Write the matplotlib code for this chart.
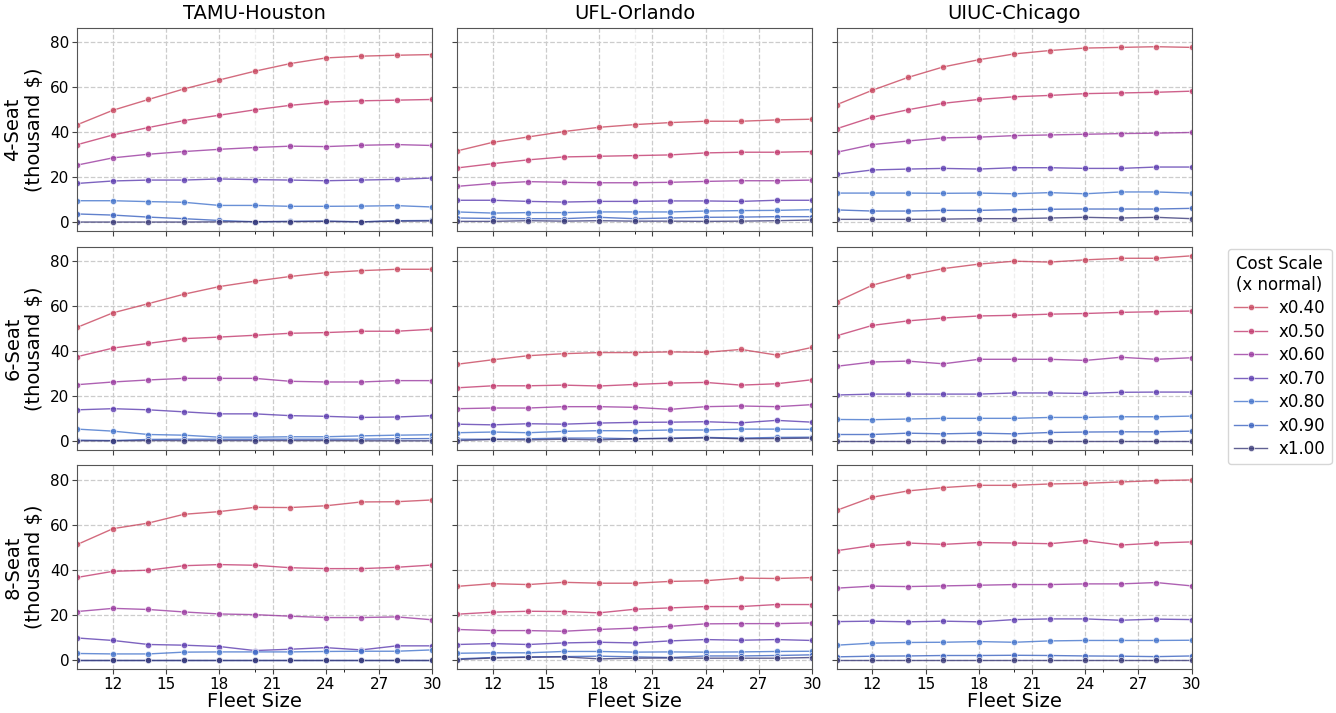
import matplotlib
matplotlib.use('Agg')
import matplotlib.pyplot as plt
import numpy as np

fleet = [10, 12, 14, 16, 18, 20, 22, 24, 26, 28, 30]
sites = ['TAMU-Houston', 'UFL-Orlando', 'UIUC-Chicago']
seats = ['4-Seat', '6-Seat', '8-Seat']
scales = ['x0.40', 'x0.50', 'x0.60', 'x0.70', 'x0.80', 'x0.90', 'x1.00']

# cost (thousand $), one list per cost scale, per seat/site panel
tamu_4 = [
    [43.4, 49.8, 54.6, 59.3, 63.3, 67.2, 70.6, 73.1, 73.9, 74.3, 74.6],
    [34.5, 38.8, 42.1, 45.2, 47.6, 50.0, 52.0, 53.4, 54.0, 54.3, 54.6],
    [25.4, 28.6, 30.2, 31.4, 32.4, 33.2, 33.8, 33.6, 34.2, 34.5, 34.1],
    [17.2, 18.3, 18.7, 18.7, 19.2, 18.9, 18.7, 18.4, 18.7, 19.0, 19.6],
    [9.5, 9.5, 9.1, 8.8, 7.4, 7.4, 7.0, 7.0, 7.1, 7.3, 6.7],
    [3.6, 3.1, 2.2, 1.5, 0.7, 0.1, 0.3, 0.4, 0.1, 0.6, 0.7],
    [0.0, 0.0, 0.0, 0.0, 0.1, 0.2, 0.2, 0.3, 0.1, 0.4, 0.5],
]
ufl_4 = [
    [31.7, 35.5, 37.9, 40.3, 42.2, 43.4, 44.3, 44.9, 44.9, 45.5, 45.8],
    [24.1, 26.0, 27.7, 29.0, 29.3, 29.6, 29.9, 30.8, 31.1, 31.1, 31.4],
    [15.9, 17.2, 18.0, 17.7, 17.5, 17.5, 17.7, 18.1, 18.4, 18.4, 18.7],
    [9.7, 9.7, 9.2, 8.9, 9.2, 9.2, 9.4, 9.4, 9.2, 9.7, 9.7],
    [4.5, 4.0, 4.2, 4.2, 4.5, 4.5, 4.5, 4.9, 5.1, 5.2, 5.5],
    [1.8, 1.6, 1.5, 1.5, 2.1, 1.5, 1.8, 2.1, 2.2, 2.4, 2.4],
    [0.3, 0.3, 0.6, 0.4, 0.6, 0.4, 0.4, 0.3, 0.4, 0.6, 0.9],
]
uiuc_4 = [
    [52.3, 58.7, 64.4, 69.1, 72.3, 74.9, 76.4, 77.5, 77.8, 78.1, 77.8],
    [41.6, 46.7, 50.0, 52.9, 54.6, 55.8, 56.4, 57.2, 57.5, 57.8, 58.3],
    [31.1, 34.5, 36.1, 37.5, 37.8, 38.5, 38.8, 39.1, 39.4, 39.6, 39.9],
    [21.3, 23.2, 23.6, 23.9, 23.6, 24.2, 24.2, 23.9, 23.9, 24.5, 24.5],
    [12.9, 12.9, 12.9, 12.8, 12.9, 12.6, 13.1, 12.6, 13.4, 13.4, 12.9],
    [5.4, 4.9, 4.9, 5.2, 5.2, 5.5, 5.7, 5.8, 5.8, 5.8, 6.1],
    [1.2, 1.2, 1.2, 1.3, 1.5, 1.5, 1.8, 2.1, 1.8, 2.1, 1.5],
]
tamu_6 = [
    [50.6, 57.0, 61.1, 65.3, 68.7, 71.1, 73.2, 74.9, 75.8, 76.4, 76.4],
    [37.5, 41.3, 43.4, 45.5, 46.2, 47.0, 47.9, 48.2, 48.8, 48.8, 49.7],
    [25.0, 26.2, 27.1, 27.8, 27.8, 27.8, 26.5, 26.2, 26.2, 26.8, 26.8],
    [13.8, 14.3, 13.8, 12.9, 12.0, 12.0, 11.2, 10.9, 10.4, 10.6, 11.2],
    [5.2, 4.3, 2.8, 2.5, 1.6, 1.6, 1.8, 1.8, 2.2, 2.5, 2.7],
    [0.3, 0.1, 0.6, 0.7, 0.7, 0.7, 0.7, 0.7, 0.7, 0.9, 1.0],
    [0.0, 0.0, 0.1, 0.1, 0.1, 0.1, 0.1, 0.1, 0.0, 0.0, 0.0],
]
ufl_6 = [
    [34.1, 36.1, 37.9, 38.8, 39.3, 39.3, 39.6, 39.4, 40.7, 38.2, 41.6],
    [23.6, 24.5, 24.5, 24.8, 24.4, 25.1, 25.7, 26.0, 24.8, 25.4, 27.2],
    [14.3, 14.6, 14.6, 15.2, 15.2, 14.9, 14.0, 15.2, 15.5, 15.2, 16.1],
    [7.4, 7.1, 7.6, 7.4, 7.9, 8.2, 8.3, 8.5, 8.0, 9.1, 8.3],
    [3.6, 3.9, 3.6, 4.2, 4.5, 4.5, 4.8, 4.8, 5.2, 5.2, 5.1],
    [0.7, 0.7, 0.9, 1.2, 1.2, 0.9, 1.2, 1.5, 1.2, 1.5, 1.6],
    [0.1, 0.6, 0.4, 0.7, 0.4, 0.9, 1.0, 1.3, 0.9, 1.0, 1.2],
]
uiuc_6 = [
    [62.0, 69.3, 73.6, 76.7, 78.7, 80.0, 79.6, 80.6, 81.3, 81.3, 82.4],
    [46.8, 51.4, 53.4, 54.7, 55.6, 55.9, 56.4, 56.7, 57.2, 57.5, 57.8],
    [33.2, 35.1, 35.5, 34.3, 36.3, 36.3, 36.3, 35.8, 37.2, 36.3, 37.0],
    [20.4, 20.8, 20.8, 20.8, 20.8, 21.3, 21.3, 21.1, 21.6, 21.7, 21.7],
    [9.5, 9.4, 9.7, 10.0, 10.0, 10.0, 10.4, 10.4, 10.7, 10.7, 11.0],
    [2.8, 2.8, 3.4, 3.1, 3.4, 3.1, 3.7, 3.9, 4.0, 4.0, 4.3],
    [0.0, 0.0, 0.0, 0.0, 0.0, 0.0, 0.0, 0.0, 0.0, 0.0, 0.0],
]
tamu_8 = [
    [51.3, 58.3, 60.8, 64.7, 65.9, 67.8, 67.7, 68.5, 70.2, 70.3, 71.1],
    [36.6, 39.3, 39.8, 41.8, 42.3, 42.0, 40.9, 40.5, 40.5, 41.1, 42.1],
    [21.4, 22.8, 22.3, 21.2, 20.3, 20.0, 19.3, 18.7, 18.7, 19.0, 17.7],
    [9.6, 8.5, 6.7, 6.4, 5.8, 4.0, 4.6, 5.3, 4.3, 6.1, 6.1],
    [2.7, 2.5, 2.5, 3.3, 3.4, 3.4, 3.4, 3.6, 3.7, 3.7, 4.3],
    [0.0, 0.0, 0.0, 0.0, 0.0, 0.0, 0.0, 0.0, 0.0, 0.0, 0.0],
    [0.0, 0.0, 0.0, 0.0, 0.0, 0.0, 0.0, 0.0, 0.0, 0.0, 0.0],
]
ufl_8 = [
    [32.6, 33.8, 33.4, 34.4, 34.0, 34.0, 34.8, 35.1, 36.3, 36.1, 36.5],
    [20.2, 21.1, 21.5, 21.4, 20.8, 22.4, 23.0, 23.6, 23.6, 24.5, 24.5],
    [13.4, 12.9, 12.9, 12.6, 13.4, 14.0, 14.8, 15.9, 16.0, 16.0, 16.3],
    [6.7, 7.1, 6.7, 7.4, 7.7, 7.4, 8.3, 8.9, 8.6, 8.9, 8.5],
    [2.8, 3.0, 3.0, 3.6, 3.6, 3.3, 3.4, 3.3, 3.4, 3.6, 3.7],
    [0.3, 0.9, 1.2, 1.3, 1.5, 1.2, 0.9, 1.6, 1.6, 1.8, 2.1],
    [0.0, 0.7, 1.0, 1.2, 0.3, 0.6, 0.7, 0.6, 0.6, 0.6, 0.9],
]
uiuc_8 = [
    [66.5, 72.3, 75.1, 76.6, 77.6, 77.6, 78.2, 78.5, 79.1, 79.7, 80.0],
    [48.5, 50.8, 51.9, 51.3, 52.1, 51.9, 51.6, 53.0, 51.0, 51.9, 52.4],
    [31.8, 32.7, 32.5, 32.8, 33.1, 33.4, 33.4, 33.7, 33.7, 34.3, 32.8],
    [16.9, 17.1, 16.8, 17.1, 16.8, 17.8, 18.1, 18.1, 17.5, 18.0, 17.8],
    [6.4, 7.3, 7.6, 7.7, 8.0, 7.7, 8.3, 8.5, 8.5, 8.5, 8.6],
    [1.2, 1.5, 1.6, 1.8, 1.8, 1.9, 1.8, 1.6, 1.5, 1.3, 1.6],
    [0.0, 0.0, 0.0, 0.0, 0.0, 0.0, 0.0, 0.0, 0.0, 0.0, 0.0],
]

panels = [[tamu_4, ufl_4, uiuc_4],
          [tamu_6, ufl_6, uiuc_6],
          [tamu_8, ufl_8, uiuc_8]]

colors = ['#c8465e', '#c23a6e', '#9a3aa0', '#5c3cb0', '#4474cc', '#3a62c0', '#3a3a78']

fig, axes = plt.subplots(3, 3, figsize=(13.36, 7.13), dpi=100, sharex=True, sharey=True)
fig.subplots_adjust(left=0.058, right=0.892, top=0.961, bottom=0.062, wspace=0.07, hspace=0.075)

for r in range(3):
    for c in range(3):
        ax = axes[r, c]
        for k, lab in enumerate(scales):
            ax.plot(fleet, panels[r][c][k], color=colors[k], lw=1.0, alpha=0.8,
                    marker='o', ms=4.5, mfc=colors[k], mec='white', mew=0.5, label=lab)
        ax.set_xlim(10, 30)
        ax.set_xticks([12, 15, 18, 21, 24, 27, 30])
        ax.set_xticks([20, 25], minor=True)
        ax.set_yticks([0, 20, 40, 60, 80])
        ax.grid(True, which='major', ls='--', color='#cccccc', lw=0.9)
        ax.grid(True, which='minor', axis='x', ls='--', color='#eeeeee', lw=0.9)
        ax.set_axisbelow(True)
        ax.tick_params(labelsize=11, length=3.5, color='#444444', pad=2.5)
        ax.tick_params(which='minor', length=2.5)
        for s in ax.spines.values():
            s.set_color('#555555')
        if r == 0:
            ax.set_title(sites[c], fontsize=14)
        if c == 0:
            ax.set_ylabel(seats[r] + '\n(thousand $)', fontsize=14)
        if r == 2:
            ax.set_xlabel('Fleet Size', fontsize=14, labelpad=0)

handles, labels = axes[0, 0].get_legend_handles_labels()
fig.legend(handles, labels, title='Cost Scale\n(x normal)', loc='center left',
           bbox_to_anchor=(0.913, 0.5), fontsize=12, title_fontsize=12,
           handlelength=2.0, handletextpad=0.7, labelspacing=0.33, borderpad=0.35)

fig.savefig('out.png', dpi=100)
